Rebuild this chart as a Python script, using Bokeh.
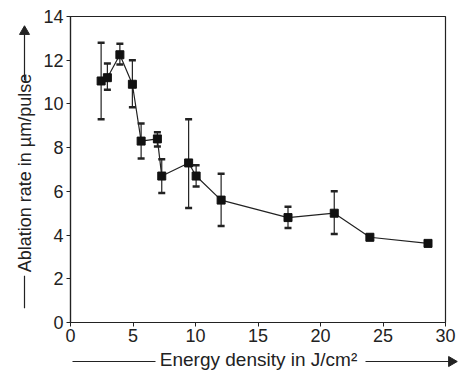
import numpy as np
from bokeh.plotting import figure
from bokeh.layouts import column, row
from bokeh.models import ColumnDataSource, Whisker, TeeHead, FixedTicker, Range1d
from bokeh.core.properties import value
from bokeh.embed import file_html
from bokeh.resources import INLINE

# Data
energy = [2.45, 2.95, 3.95, 4.95, 5.65, 6.95, 7.3, 9.45, 10.05, 12.05, 17.4, 21.1, 23.95, 28.6]
rate = [11.05, 11.2, 12.25, 10.9, 8.3, 8.4, 6.7, 7.3, 6.7, 5.6, 4.8, 5.0, 3.9, 3.62]
err_upper = [12.8, 11.85, 12.75, 12.0, 9.1, 8.7, 7.47, 9.3, 7.2, 6.8, 5.3, 6.0, 4.0]
err_lower = [9.3, 10.65, 11.8, 9.85, 7.5, 8.05, 5.93, 5.24, 6.22, 4.42, 4.32, 4.05, 3.78]
x_ticks = [0, 5, 10, 15, 20, 25, 30]
y_ticks = [0, 2, 4, 6, 8, 10, 12, 14]
x_title = "Energy density in J/cm²"
y_title = "Ablation rate in µm/pulse"

FONT = "Liberation Sans"
INK = "#222222"

LEFT_W, TOP_H, W, H = 40, 346, 458, 372

# ---- main plot ----
p = figure(width=W - LEFT_W, height=TOP_H, output_backend="svg", toolbar_location=None,
           x_range=Range1d(0, 30), y_range=Range1d(0, 14),
           min_border_left=30, min_border_right=13, min_border_top=16, min_border_bottom=24)
p.background_fill_color = "white"
p.border_fill_color = "white"
p.outline_line_color = INK
p.outline_line_width = 1.2
p.grid.visible = False

for ax in (p.xaxis[0], p.yaxis[0]):
    ax.axis_line_color = INK
    ax.axis_line_width = 1.2
    ax.major_tick_line_color = INK
    ax.major_tick_in = 0
    ax.major_tick_out = 4
    ax.minor_tick_line_color = None
    ax.major_label_text_font = FONT
    ax.major_label_text_font_size = "18px"
    ax.major_label_text_color = INK

p.xaxis[0].ticker = FixedTicker(ticks=x_ticks)
p.yaxis[0].ticker = FixedTicker(ticks=y_ticks)
p.xaxis[0].major_label_standoff = 2
p.yaxis[0].major_label_standoff = 3

err_src = ColumnDataSource(dict(x=energy[:len(err_upper)], upper=err_upper, lower=err_lower))
w = Whisker(base="x", upper="upper", lower="lower", source=err_src, dimension="height",
            line_color=INK, line_width=1.2,
            upper_head=TeeHead(size=7, line_width=2.5, line_color=INK),
            lower_head=TeeHead(size=7, line_width=2.5, line_color=INK))
p.add_layout(w)

src = ColumnDataSource(dict(x=energy, y=rate))
p.line("x", "y", source=src, line_color=INK, line_width=1.2)
p.scatter("x", "y", source=src, marker="square", size=8, fill_color="#111111", line_color="#111111")

# ---- left strip: vertical axis title with arrow ----
def strip(width, height, y0, y1):
    f = figure(width=width, height=height, output_backend="svg", toolbar_location=None,
               x_range=Range1d(0, width), y_range=Range1d(y1, y0),
               x_axis_type=None, y_axis_type=None,
               min_border=0, min_border_left=0, min_border_right=0,
               min_border_top=0, min_border_bottom=0)
    f.outline_line_color = None
    f.grid.visible = False
    f.background_fill_color = "white"
    f.border_fill_color = "white"
    return f

left = strip(LEFT_W, TOP_H, 0, TOP_H)
left.segment(x0=[24, 24], y0=[330, 72], x1=[24, 24], y1=[293, 16], line_color=INK, line_width=1.2)
left.scatter(x=[24], y=[17], marker="triangle", size=10, fill_color=INK, line_color=INK)
left.text(x=[24], y=[177], text=[y_title], angle=np.pi / 2, text_align="center",
          text_baseline="middle", text_font=value(FONT), text_font_size="18px", text_color=INK)

# ---- bottom strip: horizontal axis title with arrow ----
bottom = strip(W, H - TOP_H, TOP_H, H)
bottom.segment(x0=[72, 365], y0=[361, 361], x1=[155, 450], y1=[361, 361], line_color=INK, line_width=1.2)
bottom.scatter(x=[451], y=[361], marker="triangle", angle=-np.pi / 2, size=10, fill_color=INK, line_color=INK)
bottom.text(x=[258], y=[359], text=[x_title], text_align="center", text_baseline="middle",
            text_font=value(FONT), text_font_size="19px", text_color=INK)

layout = column(row(left, p), bottom)
open("out.html", "w").write(file_html(layout, INLINE))
